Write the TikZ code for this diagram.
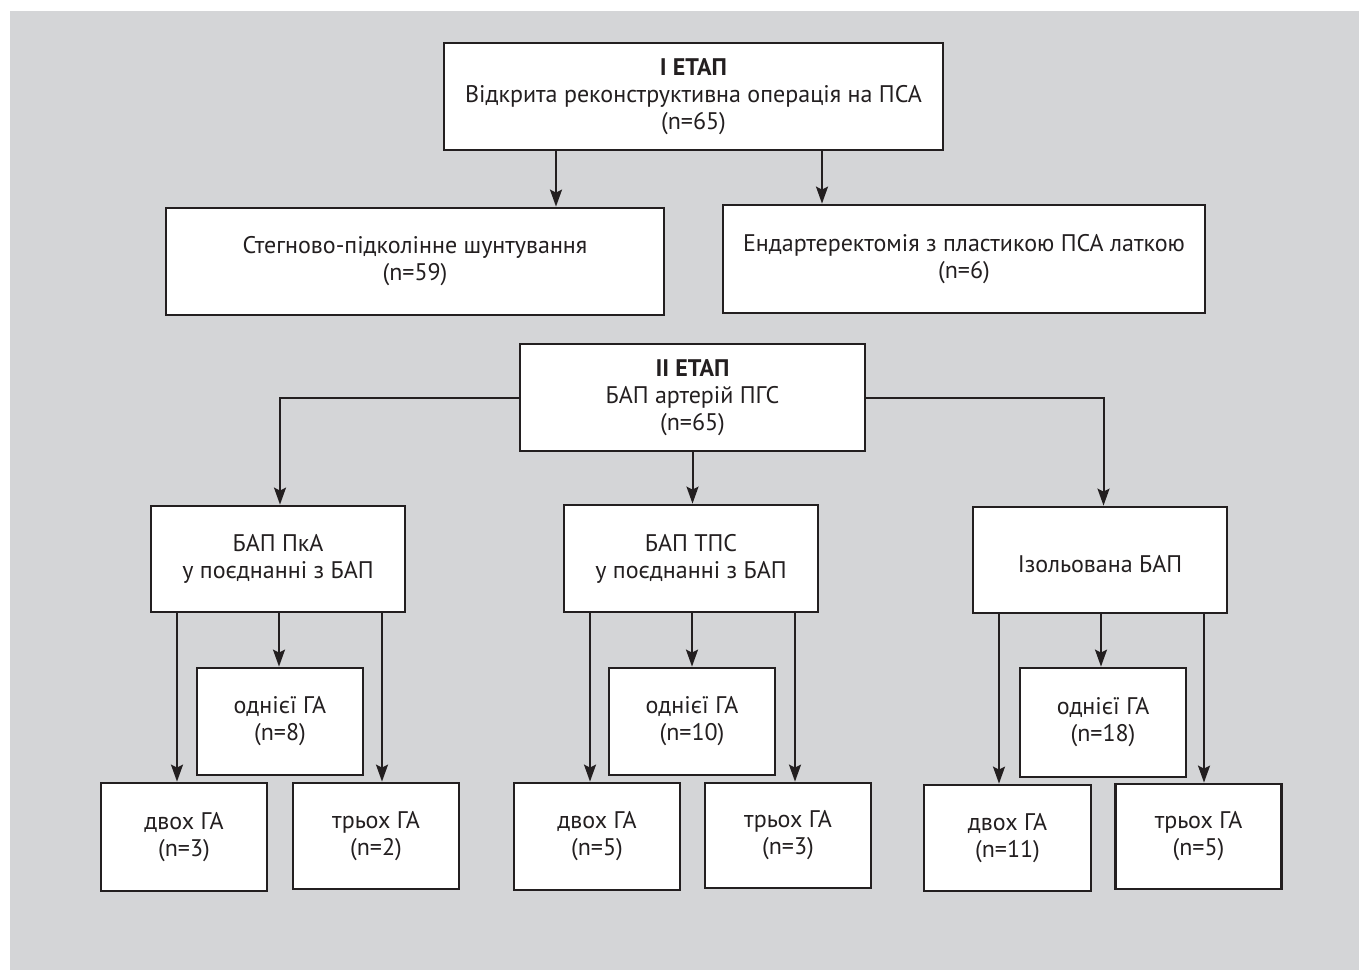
\documentclass[tikz,border=0pt]{standalone}
\usepackage{fontspec}
\setmainfont{PT Sans}
\usetikzlibrary{arrows.meta}
\definecolor{bg}{HTML}{D4D5D7}
\definecolor{ink}{HTML}{231F20}
\tikzset{
  box/.style={draw=ink, line width=2.8pt, fill=white, text=ink, align=center,
    font=\fontsize{24}{27}\selectfont, inner sep=0pt,
    execute at begin node={\rule{0pt}{26pt}}},
  arr/.style={draw=ink, line width=2pt, -{Stealth[length=17pt,width=12pt,inset=3pt]}},
}
\begin{document}
\begin{tikzpicture}[x=1pt,y=-1pt]
\useasboundingbox (0,0) rectangle (1359,970);
\fill[white] (0,0) rectangle (1359,970);
\fill[bg] (10,11) rectangle (1359,970);
% level 1
\node[box, minimum width=499, minimum height=107] (top) at (693.5,96.5) {\textbf{I ЕТАП}\\Відкрита реконструктивна операція на ПСА\\(n=65)};
\node[box, minimum width=498, minimum height=107] (steg) at (415,261.5) {Стегново-підколінне шунтування\\(n=59)};
\node[box, minimum width=482, minimum height=108] (end) at (964,259) {Ендартеректомія з пластикою ПСА латкою\\(n=6)};
% level 2
\node[box, minimum width=345, minimum height=107] (e2) at (692.5,397.5) {\textbf{II ЕТАП}\\БАП артерій ПГС\\(n=65)};
\node[box, minimum width=254, minimum height=106] (pka) at (278,559) {БАП ПкА\\у поєднанні з БАП};
\node[box, minimum width=254, minimum height=107] (tps) at (691,558.5) {БАП ТПС\\у поєднанні з БАП};
\node[box, minimum width=254, minimum height=106] (izo) at (1100,560) {Ізольована БАП};
% level 3 left
\node[box, minimum width=166, minimum height=107] (o1) at (280,721.5) {однієї ГА\\(n=8)};
\node[box, minimum width=166, minimum height=108] (d1) at (184,837) {двох ГА\\(n=3)};
\node[box, minimum width=166, minimum height=106] (t1) at (376,836) {трьох ГА\\(n=2)};
% level 3 middle
\node[box, minimum width=166, minimum height=107] (o2) at (692,721.5) {однієї ГА\\(n=10)};
\node[box, minimum width=166, minimum height=107] (d2) at (597,836.5) {двох ГА\\(n=5)};
\node[box, minimum width=166, minimum height=105] (t2) at (788,835.5) {трьох ГА\\(n=3)};
% level 3 right
\node[box, minimum width=166, minimum height=109] (o3) at (1103,722.5) {однієї ГА\\(n=18)};
\node[box, minimum width=167, minimum height=106] (d3) at (1007.5,838) {двох ГА\\(n=11)};
\node[box, minimum width=166, minimum height=105] (t3) at (1198.5,836.5) {трьох ГА\\(n=5)};
% connectors level 1
\draw[arr] ([xshift=-137.5]top.south) -- ([xshift=-137.5]top.south |- steg.north);
\draw[arr] ([xshift=128.5]top.south) -- ([xshift=128.5]top.south |- end.north);
% level 2
\draw[arr] (e2.west) -| ([xshift=2]pka.north);
\draw[arr] (e2.south) -- (e2.south |- tps.north);
\draw[arr] (e2.east) -| ([xshift=3.5]izo.north);
% level 3
\foreach \p/\o/\d/\t in {pka/o1/d1/t1, tps/o2/d2/t2, izo/o3/d3/t3}{
  \draw[arr] ([xshift=-101]\p.south) -- ([xshift=-101]\p.south |- \d.north);
  \draw[arr] ([xshift=1]\p.south) -- ([xshift=1]\p.south |- \o.north);
  \draw[arr] ([xshift=104]\p.south) -- ([xshift=104]\p.south |- \t.north);
}
\end{tikzpicture}
\end{document}
